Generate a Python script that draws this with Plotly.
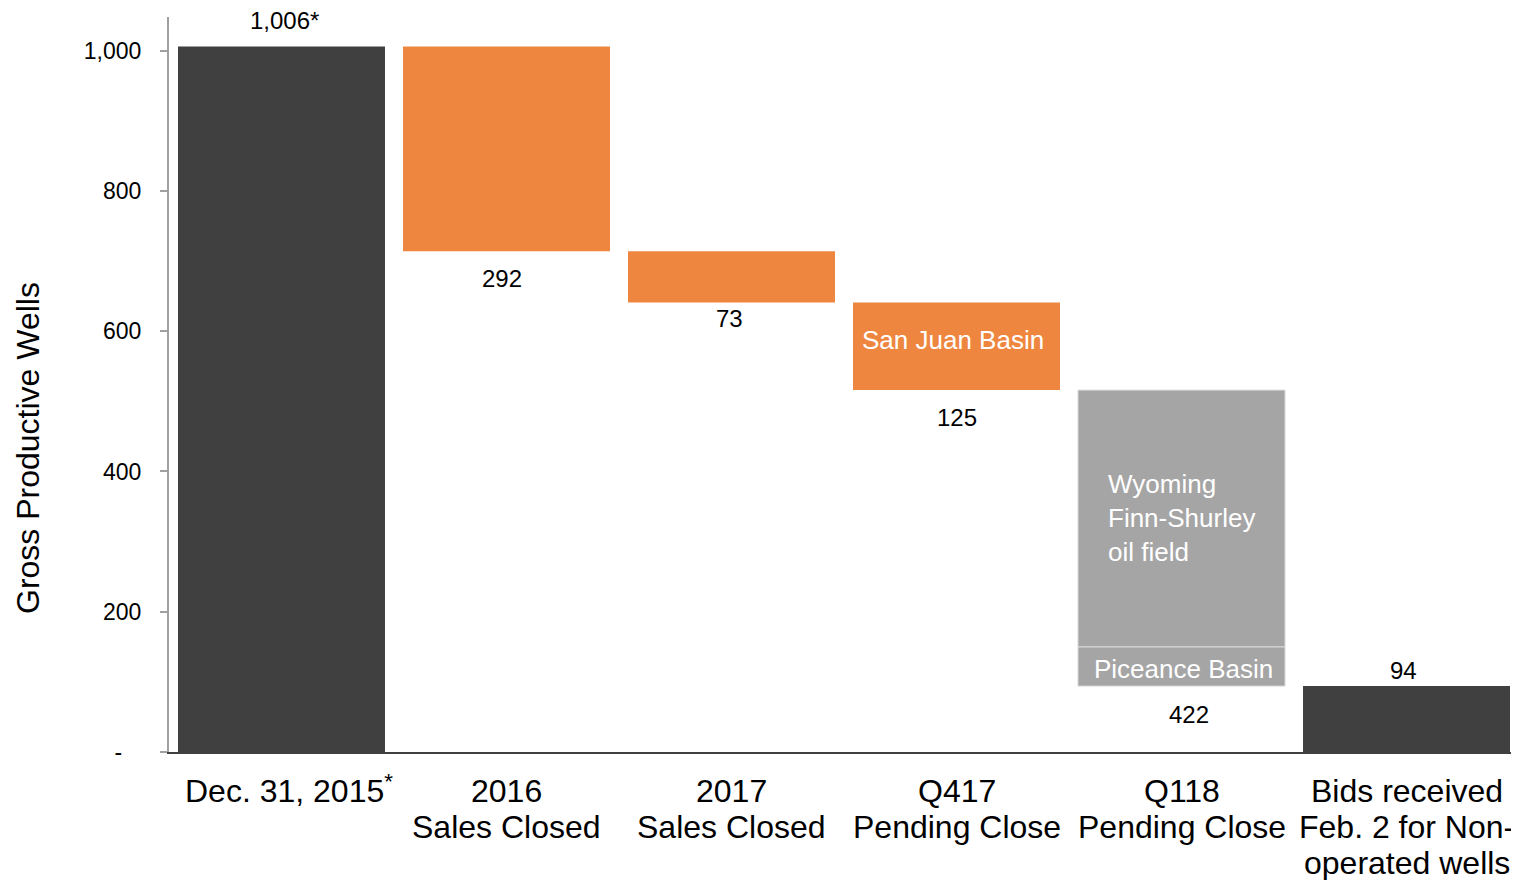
import plotly.graph_objects as go

categories = ["Dec. 31, 2015", "2016 Sales Closed", "2017 Sales Closed",
              "Q417 Pending Close", "Q118 Pending Close",
              "Bids received Feb. 2 for Non-operated wells"]
category_lines = [["Dec. 31, 2015<sup>*</sup>"], ["2016", "Sales Closed"], ["2017", "Sales Closed"],
                  ["Q417", "Pending Close"], ["Q118", "Pending Close"],
                  ["Bids received", "Feb. 2 for Non-", "operated wells"]]
start_value = 1006
decreases = [292, 73, 125, 422]
q118_parts = {"Piceance Basin": 56, "Wyoming<br>Finn-Shurley<br>oil field": 366}
end_value = 94
y_tickvals = [0, 200, 400, 600, 800, 1000]
y_ticktext = ["-\u00a0\u00a0\u00a0", "200", "400", "600", "800", "1,000"]

DARK = "#404040"
ORANGE = "#EE8640"
GRAY = "#A5A5A5"
FONT = "Arial, Liberation Sans, sans-serif"

# cumulative levels
levels = [start_value]
for d in decreases:
    levels.append(levels[-1] - d)

fig = go.Figure()
fig.add_trace(go.Bar(x=[categories[0], categories[5]], y=[start_value, end_value], base=[0, 0],
                     marker=dict(color=DARK, line=dict(width=0)), hoverinfo="skip"))
fig.add_trace(go.Bar(x=categories[1:4], y=decreases[:3], base=levels[1:4],
                     marker=dict(color=ORANGE, line=dict(width=0)), hoverinfo="skip"))
part_names = list(q118_parts.keys())
part_vals = list(q118_parts.values())
b = levels[4]
for name, v in zip(part_names, part_vals):
    fig.add_trace(go.Bar(x=[categories[4]], y=[v], base=[b],
                         marker=dict(color=GRAY, line=dict(width=1, color="#D9D9D9")),
                         hoverinfo="skip"))
    b += v

ann = []
# category labels, one line each
line_offsets = [-39, -75, -111]
for cat, lines in zip(categories, category_lines):
    for j, ln in enumerate(lines):
        ann.append(dict(x=cat, xref="x", yref="paper", y=0, yshift=line_offsets[j] + (2 if j == 0 and cat == categories[0] else 0),
                        yanchor="middle",
                        text=ln, showarrow=False, xshift=(7 if j == 0 and cat == categories[0] else 0),
                        font=dict(size=32, color="black", family=FONT)))
# value labels
ann.append(dict(x=categories[0], y=start_value, text="1,006*", yshift=26, xshift=3, showarrow=False,
                font=dict(size=24, color="black", family=FONT)))
shifts = [-27, -16, -27, -28]
xsh = [-5, -2, 0, 7]
for i, d in enumerate(decreases):
    ann.append(dict(x=categories[i + 1], y=levels[i + 1], text=str(d), yshift=shifts[i], xshift=xsh[i],
                    showarrow=False, font=dict(size=24, color="black", family=FONT)))
ann.append(dict(x=categories[5], y=end_value, text=str(end_value), yshift=16, xshift=-3, showarrow=False,
                font=dict(size=24, color="black", family=FONT)))
# inside labels
ann.append(dict(x=categories[3], y=(levels[2] + levels[3]) / 2, text="San Juan Basin", yshift=6, xshift=-4,
                showarrow=False, font=dict(size=26, color="white", family=FONT)))
ann.append(dict(x=categories[4], y=levels[4] + part_vals[0] / 2, text=part_names[0], yshift=-3, xshift=2,
                showarrow=False, font=dict(size=26, color="white", family=FONT)))
ann.append(dict(x=categories[4], y=levels[4] + part_vals[0] + part_vals[1] * 0.5, text=part_names[1],
                xanchor="left", yanchor="middle", align="left", xshift=-76, showarrow=False,
                font=dict(size=26, color="white", family=FONT)))
# axis title
ann.append(dict(xref="paper", yref="paper", x=0, y=0.4136, xshift=-161, text="Gross Productive Wells",
                textangle=-90, showarrow=False, font=dict(size=32, color="black", family=FONT)))
for a in ann:
    a.setdefault("xref", "x")
    a.setdefault("yref", "y")

# page body has an 8px default margin; figure sized to fit the remaining viewport
fig.update_layout(
    width=1511, height=872,
    margin=dict(l=161, r=0, t=9, b=128),
    paper_bgcolor="white", plot_bgcolor="white",
    barmode="overlay", bargap=0.08, showlegend=False,
    annotations=ann,
    font=dict(family=FONT, color="black"),
)
fig.update_xaxes(type="category", categoryorder="array", categoryarray=categories,
                 range=[-0.5, 5.5], showline=True, linecolor=DARK, linewidth=2, ticks="",
                 showticklabels=False, showgrid=False, automargin=False)
fig.update_yaxes(range=[0, 1048], tickvals=y_tickvals, ticktext=y_ticktext, showline=True,
                 linecolor="#A0A0A0", linewidth=2, ticks="outside", ticklen=7, tickcolor="#A0A0A0",
                 tickwidth=2, tickfont=dict(size=23, family=FONT, color="black"), showgrid=False,
                 zeroline=False, ticklabelstandoff=14, automargin=False)

fig.write_html("out.html")
